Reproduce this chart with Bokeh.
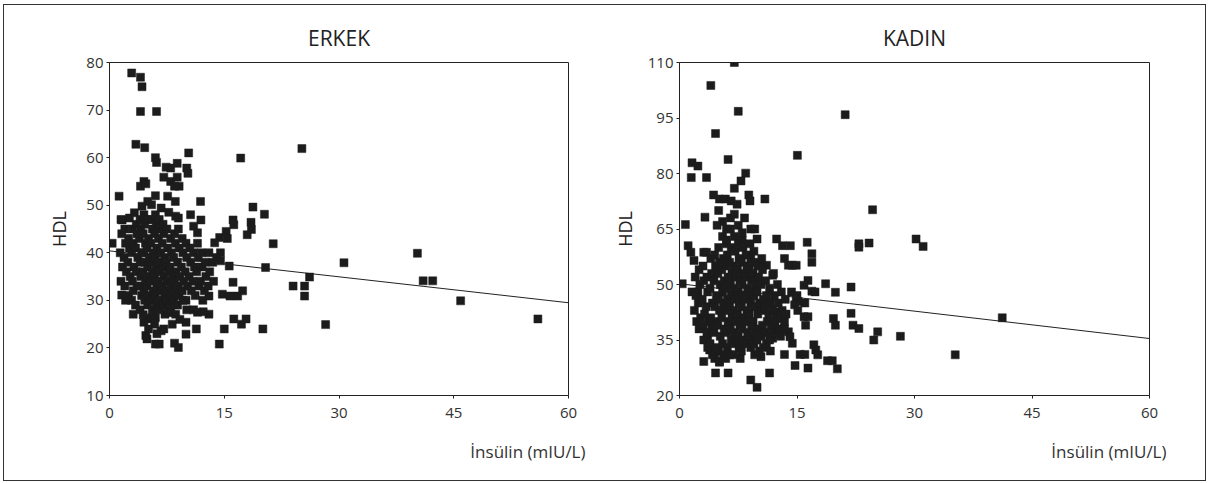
from bokeh.plotting import figure
from bokeh.layouts import row
from bokeh.models import FixedTicker, Range1d, Title
from bokeh.embed import file_html
from bokeh.resources import INLINE

# ---------------- data ----------------
x_ticks = [0, 15, 30, 45, 60]
men_y_ticks = [10, 20, 30, 40, 50, 60, 70, 80]
women_y_ticks = [20, 35, 50, 65, 80, 95, 110]

fit_insulin = [0, 60]
men_fit_hdl = [40.4, 29.5]
women_fit_hdl = [50.2, 35.4]

# ERKEK: scattered points
men_insulin_a = [
    2.9, 4.05, 4.25, 4.05, 6.15, 3.45, 4.6, 10.35, 17.15, 25.15,
    6.0, 6.15, 7.4, 8.0, 8.85, 10.1, 10.25, 7.1, 8.0, 8.85,
    9.1, 8.5, 4.5, 4.05, 4.75, 1.25, 6.0, 7.6, 8.6, 11.9,
    18.75, 20.25, 10.6, 5.0, 5.5, 4.25, 3.25, 2.6, 1.65, 6.75,
    7.75, 8.65, 9.0, 11.95, 11.0, 11.5, 16.15, 16.25, 18.5, 18.55,
    18.0, 15.25, 14.4, 13.75, 15.4, 21.4, 0.35, 14.5, 14.0, 14.5,
    15.65, 20.4, 30.65, 40.25, 41.0, 42.25, 26.15, 24.0, 25.5, 25.5,
    28.25, 45.9, 56.0, 20.05, 14.35, 15.0, 16.25, 17.25, 17.85, 14.75,
    15.75, 16.75, 17.4, 16.15, 13.0, 13.0, 12.25, 11.5, 11.35, 10.0,
    10.0, 8.5, 9.0, 6.0, 6.5, 6.75, 4.75, 4.9, 3.1, 1.6,
    4.5, 5.0, 5.5, 6.0, 7.25, 8.0, 8.65,
]
men_hdl_a = [
    77.8, 76.9, 74.9, 69.7, 69.7, 62.8, 62.1, 61.0, 59.9, 61.9,
    60.0, 59.0, 58.0, 57.8, 58.8, 57.8, 56.7, 55.9, 55.0, 55.9,
    54.0, 54.0, 55.0, 54.0, 54.5, 51.9, 52.0, 51.9, 50.8, 50.8,
    49.6, 48.1, 48.0, 50.8, 50.1, 49.8, 48.4, 47.3, 46.9, 49.4,
    48.5, 47.7, 47.3, 46.9, 45.6, 44.2, 46.9, 45.9, 46.4, 44.9,
    43.8, 44.5, 43.2, 42.1, 43.0, 41.9, 42.0, 40.0, 39.0, 38.3,
    37.2, 36.9, 37.9, 39.9, 34.1, 34.1, 34.9, 33.0, 33.0, 30.9,
    24.9, 29.9, 26.1, 24.0, 20.8, 24.0, 26.1, 25.0, 26.1, 31.3,
    30.9, 30.9, 32.0, 33.8, 30.9, 27.1, 27.6, 27.5, 24.0, 22.9,
    25.4, 21.0, 20.1, 20.8, 20.8, 23.6, 22.6, 21.9, 27.1, 31.1,
    25.4, 26.1, 26.4, 26.4, 27.1, 27.4, 27.1,
]
# ERKEK: dense cluster
men_insulin_b = [
    1.5, 1.6, 1.4, 1.7, 1.5,
    2.0, 2.1, 1.9, 2.2, 2.0, 2.1,
    2.5, 2.6, 2.4, 2.7, 2.5,
    3.0, 3.1, 2.9, 3.2, 3.0, 3.1, 2.9,
    3.5, 3.6, 3.4, 3.7, 3.5, 3.6, 3.4,
    4.0, 4.1, 3.9, 4.2, 4.0, 4.1, 3.9, 4.2, 4.0,
    4.5, 4.6, 4.4, 4.7, 4.5, 4.6, 4.4, 4.7, 4.5, 4.6, 4.4,
    5.0, 5.1, 4.9, 5.2, 5.0, 5.1, 4.9, 5.2, 5.0, 5.1,
    5.5, 5.6, 5.4, 5.7, 5.5, 5.6, 5.4, 5.7, 5.5, 5.6,
    6.0, 6.1, 5.9, 6.2, 6.0, 6.1, 5.9, 6.2, 6.0, 6.1, 5.9, 6.2,
    6.5, 6.6, 6.4, 6.7, 6.5, 6.6, 6.4, 6.7, 6.5, 6.6,
    7.0, 7.1, 6.9, 7.2, 7.0, 7.1, 6.9, 7.2, 7.0, 7.1,
    7.5, 7.6, 7.4, 7.7, 7.5, 7.6, 7.4, 7.7,
    8.0, 8.1, 7.9, 8.2, 8.0, 8.1, 7.9, 8.2,
    8.5, 8.6, 8.4, 8.7, 8.5, 8.6, 8.4,
    9.0, 9.1, 8.9, 9.2, 9.0, 9.1, 8.9, 9.2,
    9.5, 9.6, 9.4, 9.7, 9.5, 9.6,
    10.0, 10.1, 9.9, 10.2, 10.0, 10.1,
    10.5, 10.6, 10.4, 10.7,
    11.0, 11.1, 10.9, 11.2, 11.0,
    11.5, 11.6, 11.4, 11.7,
    12.0, 12.1, 11.9, 12.2,
    12.5, 12.6, 12.4,
    13.0, 13.1, 12.9,
    13.5, 13.6,
]
men_hdl_b = [
    47, 44, 40, 37, 34,
    45, 42, 39, 36, 33, 30,
    43, 41, 38, 35, 31,
    45, 42, 40, 37, 34, 32, 30,
    46, 44, 41, 39, 36, 33, 29,
    47, 45, 43, 40, 38, 35, 33, 31, 28,
    48, 46, 44, 42, 40, 38, 36, 34, 32, 30, 27,
    47, 43, 41, 39, 37, 35, 33, 31, 29, 24,
    47, 45, 42, 40, 38, 36, 34, 32, 30, 28,
    48, 46, 44, 41, 39, 37, 35, 33, 31, 29, 25, 23,
    47, 45, 43, 40, 38, 36, 34, 32, 30, 28,
    46, 44, 42, 39, 37, 35, 33, 31, 29, 24,
    45, 41, 38, 36, 34, 32, 30, 28,
    43, 40, 37, 35, 33, 31, 29, 25,
    44, 42, 39, 36, 34, 32, 30,
    45, 41, 38, 35, 33, 31, 29, 26,
    43, 40, 37, 34, 32, 30,
    42, 39, 36, 33, 30, 28,
    41, 38, 35, 32,
    40, 37, 34, 31, 28,
    42, 39, 36, 33,
    40, 37, 34, 30,
    38, 35, 32,
    40, 36, 33,
    38, 34,
]

# KADIN: scattered points
women_insulin_a = [
    7.0, 4.0, 7.5, 21.15, 4.6, 15.05, 6.2, 1.6, 2.35, 1.5,
    3.45, 8.45, 7.85, 7.0, 4.35, 5.1, 5.85, 6.6, 7.35, 8.85,
    9.0, 10.9, 3.25, 0.75, 24.65, 22.9, 22.9, 24.2, 30.2, 31.1,
    12.4, 13.15, 14.15, 16.3, 9.1, 9.6, 9.9, 1.1, 1.45, 1.85,
    3.1, 3.45, 16.9, 16.9, 13.4, 13.9, 14.4, 14.9, 10.4, 11.1,
    11.9, 18.65, 19.9, 21.9, 16.4, 15.9, 16.9, 17.3, 0.35, 1.6,
    2.35, 21.9, 22.15, 22.9, 19.65, 19.9, 25.3, 24.8, 28.2, 41.2,
    35.2, 18.9, 19.5, 20.15, 16.4, 14.75, 13.4, 15.4, 16.0, 17.15,
    17.4, 17.65, 11.5, 9.1, 9.9, 4.6, 6.2, 3.1, 5.1, 3.6,
    3.85, 7.75, 10.4, 14.4, 14.3, 14.9, 15.15, 14.7, 12.6, 13.1,
    13.4, 15.9, 16.4, 11.6, 11.9, 13.9, 14.1,
    5.0, 5.5, 6.0, 6.5, 7.5, 8.3, 4.8, 7.0, 8.0, 6.0,
]
women_hdl_a = [
    110.0, 103.8, 96.8, 95.9, 90.8, 84.9, 83.8, 82.9, 82.0, 78.9,
    78.9, 80.1, 78.0, 76.0, 74.2, 73.1, 73.1, 72.6, 71.7, 74.2,
    72.6, 73.1, 68.2, 66.2, 70.2, 61.0, 60.1, 61.2, 62.3, 60.3,
    62.3, 60.5, 60.5, 61.4, 65.0, 65.0, 62.3, 60.5, 58.7, 56.5,
    58.7, 58.7, 58.3, 56.0, 57.0, 55.2, 55.2, 55.2, 55.2, 55.2,
    52.5, 50.2, 47.9, 49.3, 51.1, 49.8, 48.2, 48.0, 50.2, 48.0,
    48.0, 42.2, 39.0, 38.1, 40.8, 39.0, 37.2, 35.0, 36.0, 41.0,
    31.0, 29.4, 29.4, 27.2, 27.4, 28.1, 31.1, 31.1, 31.1, 33.7,
    32.3, 31.0, 26.1, 24.2, 22.2, 26.1, 26.1, 29.2, 29.2, 35.3,
    32.3, 30.0, 30.5, 34.1, 48.0, 46.2, 45.4, 44.5, 42.6, 40.8,
    39.9, 41.3, 41.3, 36.3, 35.5, 37.2, 35.9,
    70, 67, 65, 68, 66, 68, 66, 69, 62, 61,
]
# KADIN: dense cluster
women_insulin_b = [
    2.0, 2.1, 1.9, 2.2,
    2.5, 2.6, 2.4, 2.7, 2.5,
    3.0, 3.1, 2.9, 3.2, 3.0, 3.1,
    3.5, 3.6, 3.4, 3.7, 3.5, 3.6,
    4.0, 4.1, 3.9, 4.2, 4.0, 4.1, 3.9, 4.2,
    4.5, 4.6, 4.4, 4.7, 4.5, 4.6, 4.4, 4.7, 4.5,
    5.0, 5.1, 4.9, 5.2, 5.0, 5.1, 4.9, 5.2, 5.0, 5.1,
    5.5, 5.6, 5.4, 5.7, 5.5, 5.6, 5.4, 5.7, 5.5, 5.6,
    6.0, 6.1, 5.9, 6.2, 6.0, 6.1, 5.9, 6.2, 6.0, 6.1, 5.9,
    6.5, 6.6, 6.4, 6.7, 6.5, 6.6, 6.4, 6.7, 6.5, 6.6, 6.4,
    7.0, 7.1, 6.9, 7.2, 7.0, 7.1, 6.9, 7.2, 7.0, 7.1, 6.9,
    7.5, 7.6, 7.4, 7.7, 7.5, 7.6, 7.4, 7.7, 7.5, 7.6,
    8.0, 8.1, 7.9, 8.2, 8.0, 8.1, 7.9, 8.2, 8.0, 8.1, 7.9,
    8.5, 8.6, 8.4, 8.7, 8.5, 8.6, 8.4, 8.7, 8.5,
    9.0, 9.1, 8.9, 9.2, 9.0, 9.1, 8.9, 9.2, 9.0, 9.1,
    9.5, 9.6, 9.4, 9.7, 9.5, 9.6, 9.4, 9.7, 9.5, 9.6,
    10.0, 10.1, 9.9, 10.2, 10.0, 10.1, 9.9, 10.2,
    10.5, 10.6, 10.4, 10.7, 10.5, 10.6, 10.4, 10.7,
    11.0, 11.1, 10.9, 11.2, 11.0, 11.1,
    11.5, 11.6, 11.4, 11.7, 11.5, 11.6,
    12.0, 12.1, 11.9, 12.2, 12.0,
    12.5, 12.6, 12.4, 12.7,
    13.0, 13.1, 12.9,
    13.5, 13.6, 13.4,
    15.0, 15.1,
    16.0, 16.1,
]
women_hdl_b = [
    52, 47, 43, 40,
    54, 50, 45, 41, 38,
    55, 51, 46, 42, 39, 35,
    52, 48, 44, 40, 37, 33,
    57, 53, 49, 45, 41, 38, 34, 31,
    58, 55, 51, 47, 44, 40, 37, 33, 30,
    60, 56, 53, 50, 46, 43, 39, 36, 32, 29,
    63, 57, 54, 51, 48, 45, 41, 38, 34, 31,
    62, 58, 55, 52, 49, 46, 43, 40, 37, 33, 30,
    65, 60, 56, 53, 50, 47, 44, 41, 38, 35, 31,
    63, 59, 55, 52, 49, 46, 43, 40, 37, 34, 31,
    61, 57, 54, 51, 48, 45, 42, 39, 36, 33,
    64, 60, 56, 53, 50, 47, 44, 41, 38, 35, 32,
    58, 55, 52, 49, 46, 43, 40, 37, 34,
    61, 57, 54, 51, 48, 45, 42, 39, 36, 33,
    59, 56, 53, 50, 47, 44, 40, 37, 34, 31,
    55, 52, 48, 45, 42, 38, 35, 32,
    57, 54, 50, 46, 43, 39, 36, 33,
    51, 47, 44, 40, 37, 34,
    49, 45, 42, 39, 35, 32,
    53, 47, 43, 40, 37,
    50, 45, 41, 38,
    48, 43, 36,
    46, 42, 38,
    47, 43,
    45, 39,
]

FONT = "Open Sans"
INK = "#222222"


def make_panel(title, xs, ys, fit_y, y_ticks, width, left, right, label_standoff):
    p = figure(width=width, height=475, output_backend="svg", toolbar_location=None,
               x_range=Range1d(x_ticks[0], x_ticks[-1]),
               y_range=Range1d(y_ticks[0], y_ticks[-1]),
               min_border_left=left, min_border_right=right,
               min_border_top=57, min_border_bottom=83)
    p.title.text = title
    p.title.align = "center"
    p.title.text_font = FONT
    p.title.text_font_size = "21px"
    p.title.text_font_style = "normal"
    p.title.text_color = INK
    p.title.standoff = 22

    p.grid.visible = False
    p.outline_line_color = INK
    p.outline_line_width = 1
    p.background_fill_color = "white"
    p.border_fill_color = "white"

    for ax in (p.xaxis[0], p.yaxis[0]):
        ax.axis_line_color = INK
        ax.major_tick_line_color = INK
        ax.major_tick_in = 0
        ax.major_tick_out = 3
        ax.minor_tick_line_color = None
        ax.major_label_text_font = FONT
        ax.major_label_text_font_size = "15px"
        ax.major_label_text_color = "#333333"
    p.xaxis.ticker = FixedTicker(ticks=x_ticks)
    p.yaxis.ticker = FixedTicker(ticks=y_ticks)
    p.xaxis.major_label_standoff = 9
    p.yaxis.major_label_standoff = 3

    p.yaxis.axis_label = "HDL"
    p.yaxis.axis_label_text_font = FONT
    p.yaxis.axis_label_text_font_size = "18px"
    p.yaxis.axis_label_text_font_style = "normal"
    p.yaxis.axis_label_text_color = INK
    p.yaxis.axis_label_standoff = label_standoff

    p.add_layout(Title(text="İnsülin (mIU/L)", align="right", text_font=FONT,
                       text_font_size="17px", text_font_style="normal",
                       text_color="#333333", standoff=35, offset=-17), "below")

    p.line(fit_insulin, fit_y, line_color=INK, line_width=1)
    p.scatter(xs, ys, marker="square", size=8, fill_color="#1c1c1c",
              line_color="#1c1c1c", line_width=0.5)
    return p


p1 = make_panel("ERKEK", men_insulin_a + men_insulin_b, men_hdl_a + men_hdl_b,
                men_fit_hdl, men_y_ticks, 605, 105, 41, 12)
p2 = make_panel("KADIN", women_insulin_a + women_insulin_b, women_hdl_a + women_hdl_b,
                women_fit_hdl, women_y_ticks, 596, 63, 56, 8)

layout = row(p1, p2, styles={"border": "1px solid #333333", "background": "white",
                             "margin-left": "3px", "margin-top": "4px"})

with open("out.html", "w") as f:
    f.write(file_html(layout, INLINE))
